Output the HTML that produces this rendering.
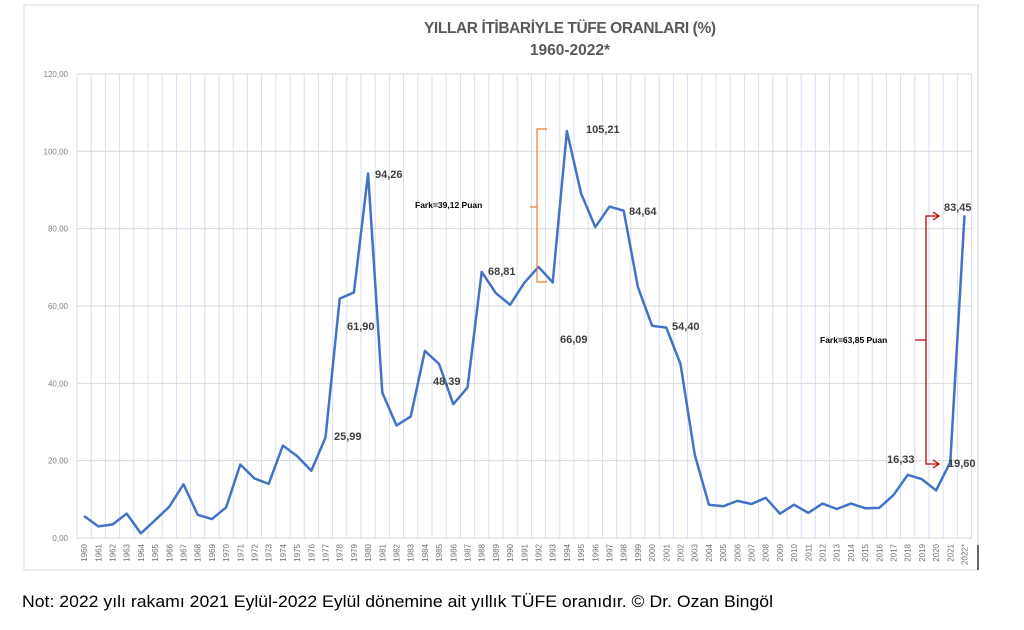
<!DOCTYPE html><html><head><meta charset="utf-8"><style>body{margin:0;background:#fff;width:1024px;height:625px;overflow:hidden;font-family:"Liberation Sans",sans-serif}</style></head><body>
<svg width="1024" height="625" xmlns="http://www.w3.org/2000/svg" font-family="Liberation Sans, sans-serif">
<rect x="24" y="5" width="954" height="565" fill="#fff" stroke="#d9d9d9"/>
<line x1="978" y1="545" x2="978" y2="570" stroke="#333" stroke-width="1.5"/>
<text x="570" y="33" text-anchor="middle" font-size="15.5" font-weight="bold" fill="#595959" textLength="292">YILLAR İTİBARİYLE TÜFE ORANLARI (%)</text>
<text x="570" y="55" text-anchor="middle" font-size="15.5" font-weight="bold" fill="#595959">1960-2022*</text>
<g id="g"></g>
<text x="22" y="607" font-size="16.5" fill="#000" textLength="751" lengthAdjust="spacingAndGlyphs">Not: 2022 yılı rakamı 2021 Eylül-2022 Eylül dönemine ait yıllık TÜFE oranıdır. © Dr. Ozan Bingöl</text>
</svg>
<script>
const d=[5.7,3.0,3.5,6.3,1.2,4.6,8.1,13.9,6.0,4.9,7.9,19.0,15.4,14.0,23.9,21.2,17.4,25.99,61.9,63.5,94.26,37.6,29.1,31.4,48.39,45.0,34.6,38.9,68.81,63.3,60.3,66.0,70.1,66.09,105.21,89.1,80.4,85.7,84.64,64.9,54.9,54.40,45.0,21.6,8.6,8.2,9.6,8.8,10.4,6.3,8.6,6.5,8.9,7.5,8.9,7.7,7.8,11.1,16.33,15.2,12.3,19.60,83.45];
const L=77,W=14.2,Y0=538,K=3.867;const X=i=>L+W*(i+0.5),Y=v=>Y0-v*K;
let s='';
for(let i=0;i<=63;i++)s+=`<line x1="${L+W*i}" y1="${Y(120)}" x2="${L+W*i}" y2="${Y0}" stroke="#d6def0" stroke-width="1"/>`;
for(let v=0;v<=120;v+=20){s+=`<line x1="${L}" y1="${Y(v)}" x2="${L+W*63}" y2="${Y(v)}" stroke="#d9d9d9"/><text x="68" y="${Y(v)+3}" text-anchor="end" font-size="8" fill="#808080">${v}${',00'}</text>`;}
for(let i=0;i<63;i++){let t=i==62?'2022*':(1960+i);s+=`<text transform="translate(${X(i)+3},${Y0+6}) rotate(-90)" text-anchor="end" font-size="8" fill="#707070">${t}</text>`;}
s+=`<polyline fill="none" stroke="#4472c4" stroke-width="2.5" stroke-linejoin="round" points="${d.map((v,i)=>X(i)+','+Y(v)).join(' ')}"/>`;
const lb=[[375,178,'94,26'],[347,330,'61,90'],[334,440,'25,99'],[433,385,'48,39'],[488,275,'68,81'],[560,343,'66,09'],[586,133,'105,21'],[629,215,'84,64'],[672,330,'54,40'],[887,463,'16,33'],[948,467,'19,60'],[944,211,'83,45']];
lb.forEach(a=>s+=`<text x="${a[0]}" y="${a[1]}" font-size="11" font-weight="bold" fill="#404040">${a[2]}</text>`);
s+=`<path d="M547,129 H537 V282 H547 M537,207 H530" fill="none" stroke="#ed7d31" stroke-width="1.2"/><text x="415" y="208" font-size="8.5" font-weight="bold" fill="#000">Fark=39,12 Puan</text>`;
s+=`<path d="M938,216 H926 V464 H938 M926,340 H915" fill="none" stroke="#c00000" stroke-width="1.3"/><path d="M933,212 L939,216 L933,220 M933,460 L939,464 L933,468" fill="none" stroke="#c00000" stroke-width="1.3"/><text x="820" y="343" font-size="8.5" font-weight="bold" fill="#000">Fark=63,85 Puan</text>`;
document.getElementById('g').innerHTML=s;
</script></body></html>
